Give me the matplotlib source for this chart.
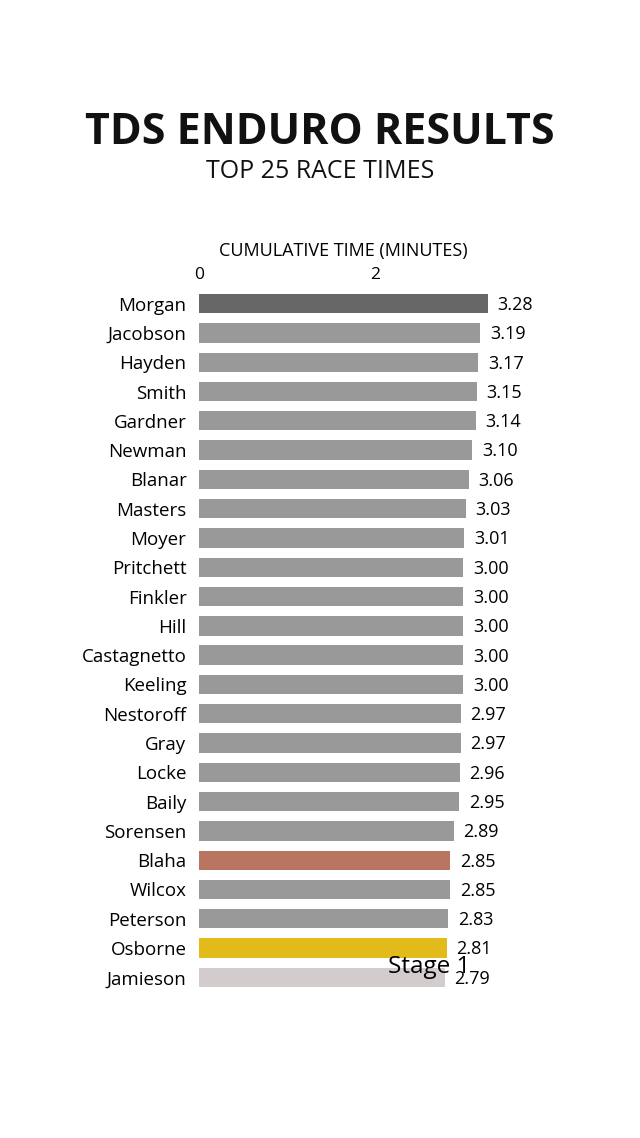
#TDS ENDURO RESULTS - HORIZONTAL BAR CHART

import numpy as np
import matplotlib.pyplot as plt

plt.rcParams['font.family'] = ['Open Sans', 'DejaVu Sans']

#DATA

riders = ["Morgan", "Jacobson", "Hayden", "Smith", "Gardner", "Newman", "Blanar",
          "Masters", "Moyer", "Pritchett", "Finkler", "Hill", "Castagnetto", "Keeling",
          "Nestoroff", "Gray", "Locke", "Baily", "Sorensen", "Blaha", "Wilcox",
          "Peterson", "Osborne", "Jamieson"]
times = [3.28, 3.19, 3.17, 3.15, 3.14, 3.10, 3.06, 3.03, 3.01, 3.00, 3.00, 3.00,
         3.00, 3.00, 2.97, 2.97, 2.96, 2.95, 2.89, 2.85, 2.85, 2.83, 2.81, 2.79]
special = {"Morgan": "#676767", "Blaha": "#BA7462", "Osborne": "#E2BA1A", "Jamieson": "#D3CCCC"}
colors = [special.get(r, "#999999") for r in riders]

#FIGURE

fig = plt.figure(figsize=(6.4, 11.38), dpi=100)
fig.text(0.5, 1 - 132/1138, "TDS ENDURO RESULTS", ha="center", va="center",
         fontsize=31, fontweight="bold", color="#111111")
fig.text(0.5, 1 - 172/1138, "TOP 25 RACE TIMES", ha="center", va="center",
         fontsize=18, color="#111111")

ax = fig.add_axes([199/640, 1 - 992/1138, (488-199)/640, (992-289)/1138])
y = np.arange(len(riders))
ax.barh(y, times, height=0.66, color=colors)
ax.set_ylim(len(riders) - 0.5, -0.5)
ax.set_xlim(0, max(times))
ax.set_yticks(y)
ax.set_yticklabels(riders, fontsize=13.5)
ax.set_xticks([0, 2])
ax.xaxis.tick_top()
ax.xaxis.set_label_position("top")
ax.set_xlabel("CUMULATIVE TIME (MINUTES)", fontsize=13, labelpad=8)
ax.tick_params(axis="x", length=0, labelsize=12.5, pad=4)
ax.tick_params(axis="y", length=0, pad=9)
for s in ax.spines.values():
    s.set_visible(False)

for yi, t in zip(y, times):
    ax.annotate(f"{t:.2f}", (t, yi), xytext=(7, -1), textcoords="offset points",
                va="center", ha="left", fontsize=13, annotation_clip=False)

ax.text(2.61, 22.65, "Stage 1", ha="center", va="center", fontsize=17.5)

fig.savefig("out.png", dpi=100)
